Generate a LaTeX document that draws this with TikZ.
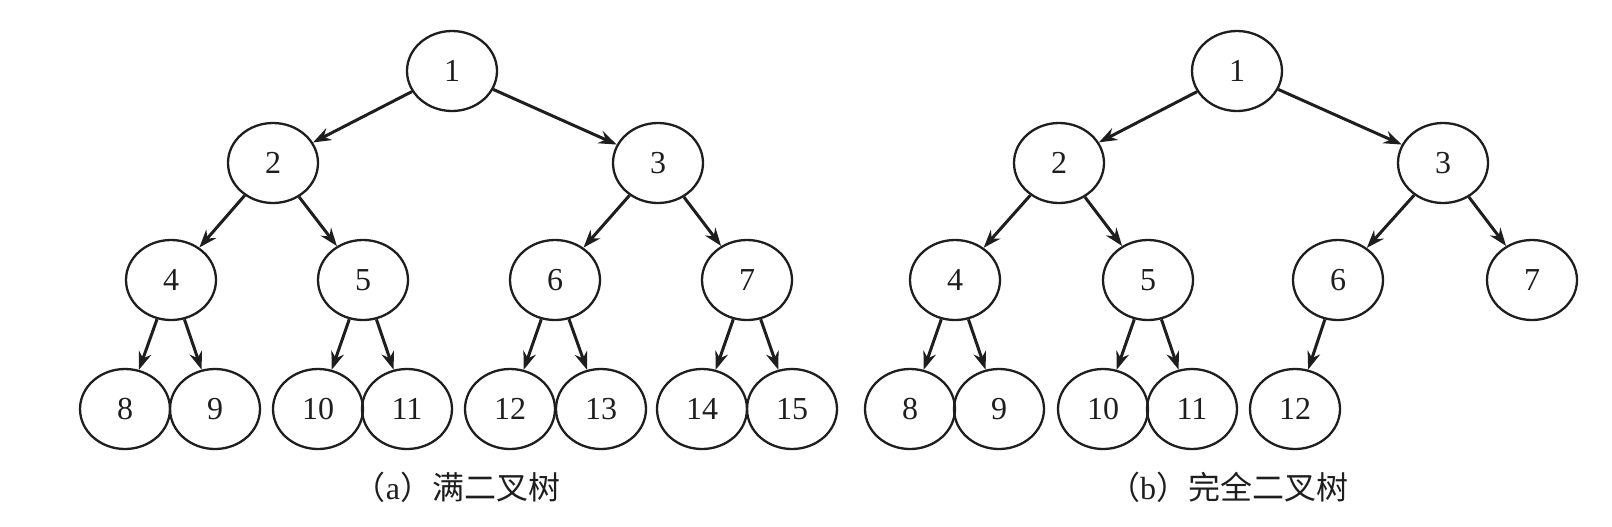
\documentclass[tikz,border=0pt]{standalone}
\usepackage{fontspec}
\setmainfont{Liberation Serif}
\newfontfamily\cjk{Noto Sans CJK SC}
\usetikzlibrary{arrows.meta,shapes.geometric}
\definecolor{ink}{HTML}{1E1E1E}
\tikzset{
  tn/.style={draw=ink, line width=1.15pt, ellipse, minimum width=45pt, minimum height=40pt, inner sep=0pt, font=\fontsize{16}{16}\selectfont, text=ink},
  edge/.style={draw=ink, line width=1.5pt, -{Stealth[length=9pt,width=6.5pt]}},
  captext/.style={font=\fontsize{16}{16}\selectfont, text=ink}
}
\begin{document}
\begin{tikzpicture}[x=0.5pt,y=-0.5pt]
\useasboundingbox (0,0) rectangle (1612,526);
% tree a
\node[tn] (a1) at (452,71) {1};
\node[tn] (a2) at (273,163) {2};
\node[tn] (a3) at (658,163) {3};
\node[tn] (a4) at (171,280) {4};
\node[tn] (a5) at (363,280) {5};
\node[tn] (a6) at (555,280) {6};
\node[tn] (a7) at (747,280) {7};
\node[tn] (a8) at (125,409) {8};
\node[tn] (a9) at (215,409) {9};
\node[tn] (a10) at (318,409) {10};
\node[tn] (a11) at (407,409) {11};
\node[tn] (a12) at (510,409) {12};
\node[tn] (a13) at (601,409) {13};
\node[tn] (a14) at (702,409) {14};
\node[tn] (a15) at (792,409) {15};
\foreach \p/\c in {a1/a2,a1/a3,a2/a4,a2/a5,a3/a6,a3/a7,a4/a8,a4/a9,a5/a10,a5/a11,a6/a12,a6/a13,a7/a14,a7/a15}
  \draw[edge] (\p) -- (\c);
\node[captext] (capa) at (457,487) {{\cjk （}a{\cjk ）满二叉树}};
% tree b
\node[tn] (b1) at (1237,71) {1};
\node[tn] (b2) at (1059,163) {2};
\node[tn] (b3) at (1443,163) {3};
\node[tn] (b4) at (955,280) {4};
\node[tn] (b5) at (1148,280) {5};
\node[tn] (b6) at (1338,280) {6};
\node[tn] (b7) at (1532,280) {7};
\node[tn] (b8) at (910,409) {8};
\node[tn] (b9) at (999,409) {9};
\node[tn] (b10) at (1103,409) {10};
\node[tn] (b11) at (1192,409) {11};
\node[tn] (b12) at (1295,409) {12};
\foreach \p/\c in {b1/b2,b1/b3,b2/b4,b2/b5,b3/b6,b3/b7,b4/b8,b4/b9,b5/b10,b5/b11,b6/b12}
  \draw[edge] (\p) -- (\c);
\node[captext] (capb) at (1228,487) {{\cjk （}b{\cjk ）完全二叉树}};
\end{tikzpicture}
\end{document}
